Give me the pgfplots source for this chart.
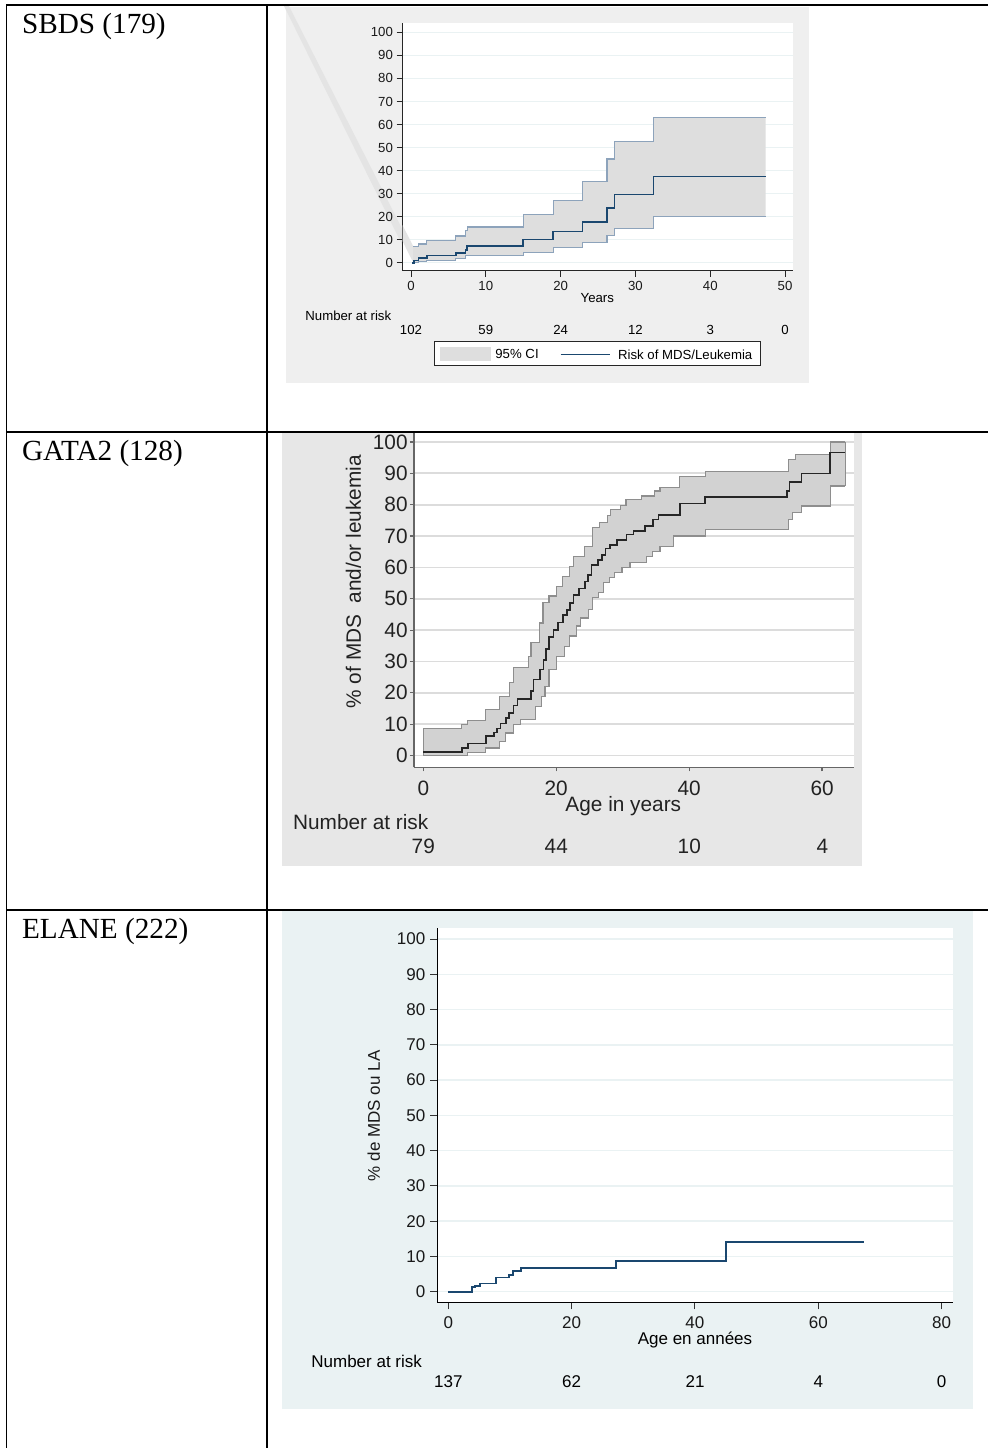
\documentclass[border=0pt]{standalone}
\usepackage{fontspec}
\setmainfont{Liberation Serif}
\newfontfamily\arial{Liberation Sans}
\usepackage{pgfplots}
\pgfplotsset{compat=1.18}
\definecolor{panelA}{HTML}{EFEFEF}
\definecolor{panelB}{HTML}{E7E7E7}
\definecolor{panelC}{HTML}{EAF2F3}
\definecolor{gridA}{HTML}{EAF2F3}
\definecolor{gridB}{HTML}{DCDCDC}
\definecolor{ciA}{HTML}{DEDEDE}
\definecolor{wedge}{HTML}{E4E4E4}
\definecolor{ciAline}{HTML}{8DA3BB}
\definecolor{navy}{HTML}{1A476F}
\definecolor{ciB}{HTML}{D2D2D2}
\definecolor{ciBline}{HTML}{8E8E8E}
\definecolor{txtB}{HTML}{222222}
\newcommand\fA{\arial\fontsize{6.6}{7.5}\selectfont}
\newcommand\fB{\arial\fontsize{10.4}{12}\selectfont}
\newcommand\fC{\arial\fontsize{8.5}{10}\selectfont}
\newcommand\fR{\fontsize{14.6}{17}\selectfont}

\pgfplotstableread{
x y
0.14 0
0.4 1.0
1.0 2.0
2.1 3.2
6.0 4.3
7.3 5.5
7.5 7.2
15.0 10.0
19.0 13.5
22.9 17.8
26.2 23.8
27.2 29.6
32.4 37.4
47.4 37.4
}\sbdsmain
\pgfplotstableread{
x y
0.3 7.1
1.0 8.1
2.1 9.7
6.0 11.6
7.3 14.0
7.6 15.5
15.0 20.8
19.0 27.1
22.9 35.3
26.2 45.0
27.2 52.7
32.4 63.0
47.4 63.0
}\sbdsup
\pgfplotstableread{
x y
0.27 0
1.0 0.6
2.1 1.0
6.0 1.7
7.3 3.2
15.0 4.6
19.0 6.5
22.9 8.7
26.2 11.7
27.2 15.0
32.4 20.1
47.4 20.1
}\sbdslo

\pgfplotstableread{
x y
0 1.1
5.8 2.4
6.7 3.8
9.4 6.2
10.6 7.4
11.1 8.6
11.6 10.2
12.4 12.0
12.9 13.6
13.6 16.0
14.2 18.0
16.2 20.5
16.6 24.3
17.6 27.4
18.1 30.5
18.5 34.0
18.9 37.9
19.6 40.1
20.3 42.4
21.0 44.9
21.6 46.4
22.1 48.6
22.6 51.2
23.4 53.3
24.3 55.5
24.8 57.6
25.3 60.8
26.3 62.4
26.9 64.0
27.4 66.0
28.1 67.1
29.1 68.7
30.6 70.5
31.6 71.7
33.4 73.2
34.6 75.3
35.4 76.7
38.6 80.4
42.4 82.5
54.7 84.3
55.1 87.3
56.9 90.0
61.2 96.7
63.5 96.7
}\gatamain
\pgfplotstableread{
x y
0 8.6
5.8 9.9
6.7 11.3
9.4 14.7
11.5 18.9
13.0 23.2
13.6 28.0
15.8 31.7
16.2 36.0
17.5 42.3
18.0 48.7
18.9 50.9
20.0 54.0
20.9 57.2
22.0 60.4
22.6 63.6
24.3 66.8
25.4 72.7
26.5 74.3
27.7 76.6
28.2 78.5
29.7 79.8
30.5 81.7
32.8 82.8
34.8 84.4
35.6 85.5
38.5 89.1
42.4 90.7
54.9 94.5
56.0 96.0
61.3 100
63.5 100
}\gataup
\pgfplotstableread{
x y
0 0
6.7 0.9
9.4 2.4
11.5 4.6
12.4 7.2
13.6 9.9
14.6 11.5
16.9 15.7
17.8 18.9
18.3 22.1
18.9 27.4
20.0 31.7
21.2 34.9
22.0 38.1
23.1 41.3
23.7 43.9
24.8 46.6
25.4 50.3
26.3 51.9
27.1 55.1
28.0 56.7
28.8 58.3
29.9 59.9
31.1 61.5
33.6 63.6
34.5 65.2
35.6 66.8
37.6 70.0
42.4 72.1
54.9 75.3
55.5 77.4
56.9 79.6
61.3 86.0
63.5 86.0
}\gatalo

\pgfplotstableread{
x y
0 0
3.84 1.3
4.3 1.6
5.1 2.3
7.7 4.0
9.8 4.7
10.5 5.8
11.8 6.7
27.2 8.7
45.0 14.1
67.4 14.1
}\elane

\begin{document}
\begin{tikzpicture}
\begin{scope}[x=0.5pt,y=-0.5pt]
 \fill[white] (0,0) rectangle (988,1448);
 \fill[panelA] (286,7) rectangle (808.5,383.3);
 \fill[wedge] (284,6) -- (289,6) -- (411,246.3) -- (411,262.7) -- cycle;
 \fill[panelB] (281.7,432) rectangle (862,865.7);
 \fill[panelC] (282.3,911) rectangle (972.7,1409.3);
 \coordinate (O1) at (402.7,270.7);
 \coordinate (O2) at (414,767.3);
 \coordinate (O3) at (437.3,1302.3);
\end{scope}

% ---------- SBDS ----------
\begin{axis}[at={(O1)}, anchor=south west, scale only axis,
 width=195.3pt, height=124pt,
 xmin=-1.11, xmax=51.1, ymin=-3.47, ymax=104.2,
 axis lines*=left, axis line style={black!85, line width=0.5pt},
 xtick={0,10,...,50}, ytick={0,10,...,100},
 tick align=outside, major tick length=3pt,
 tick style={black!85, line width=0.5pt},
 ymajorgrids, grid style={gridA, line width=0.6pt},
 axis background/.style={fill=white},
 /pgf/number format/assume math mode=true,
 tick label style={font=\fA, text=black!90, inner sep=0pt},
 xticklabel style={anchor=center, yshift=-4.65pt},
 yticklabel style={anchor=east, xshift=-1.7pt}]
\addplot[fill=wedge, draw=none] coordinates {(-16.5,110.6) (-15.8,110.6) (0.3,7.1) (0.3,0)} -- cycle;
\addplot[fill=ciA, draw=none] coordinates {
(0.3,7.1) (1.0,7.1) (1.0,8.1) (2.1,8.1) (2.1,9.7) (6.0,9.7) (6.0,11.6) (7.3,11.6) (7.3,14.0) (7.6,14.0) (7.6,15.5) (15.0,15.5) (15.0,20.8) (19.0,20.8) (19.0,27.1) (22.9,27.1) (22.9,35.3) (26.2,35.3) (26.2,45.0) (27.2,45.0) (27.2,52.7) (32.4,52.7) (32.4,63.0) (47.4,63.0)
(47.4,20.1) (32.4,20.1) (32.4,15.0) (27.2,15.0) (27.2,11.7) (26.2,11.7) (26.2,8.7) (22.9,8.7) (22.9,6.5) (19.0,6.5) (19.0,4.6) (15.0,4.6) (15.0,3.2) (7.3,3.2) (7.3,1.7) (6.0,1.7) (6.0,1.0) (2.1,1.0) (2.1,0.6) (1.0,0.6) (1.0,0) (0.27,0)} -- cycle;
\addplot[const plot, ciAline, line width=0.6pt] table {\sbdsup};
\addplot[const plot, ciAline, line width=0.6pt] table {\sbdslo};
\addplot[const plot, navy, line width=0.8pt] table {\sbdsmain};
\end{axis}

% ---------- GATA2 ----------
\begin{axis}[at={(O2)}, anchor=south west, scale only axis,
 width=220pt, height=167.65pt,
 xmin=-1.4, xmax=64.8, ymin=-3.76, ymax=103.2,
 axis lines*=left, axis line style={black!60, line width=0.6pt},
 xtick={0,20,40,60}, ytick={0,10,...,100},
 tick align=outside, major tick length=2pt,
 tick style={black!60, line width=0.6pt},
 ymajorgrids, grid style={gridB, line width=0.9pt},
 axis background/.style={fill=white},
 /pgf/number format/assume math mode=true,
 tick label style={font=\fB, text=txtB, inner sep=0pt},
 xticklabel style={anchor=center, yshift=-8.5pt},
 yticklabel style={anchor=east, xshift=-1pt},
 ylabel={\% of MDS\ \ and/or leukemia},
 ylabel style={font=\fB, text=txtB, at={(axis description cs:-0.1377,0.5535)}, anchor=center},
 clip=false]
\addplot[fill=ciB, draw=none] coordinates {
(0,8.6) (5.8,8.6) (5.8,9.9) (6.7,9.9) (6.7,11.3) (9.4,11.3) (9.4,14.7) (11.5,14.7) (11.5,18.9) (13.0,18.9) (13.0,23.2) (13.6,23.2) (13.6,28.0) (15.8,28.0) (15.8,31.7) (16.2,31.7) (16.2,36.0) (17.5,36.0) (17.5,42.3) (18.0,42.3) (18.0,48.7) (18.9,48.7) (18.9,50.9) (20.0,50.9) (20.0,54.0) (20.9,54.0) (20.9,57.2) (22.0,57.2) (22.0,60.4) (22.6,60.4) (22.6,63.6) (24.3,63.6) (24.3,66.8) (25.4,66.8) (25.4,72.7) (26.5,72.7) (26.5,74.3) (27.7,74.3) (27.7,76.6) (28.2,76.6) (28.2,78.5) (29.7,78.5) (29.7,79.8) (30.5,79.8) (30.5,81.7) (32.8,81.7) (32.8,82.8) (34.8,82.8) (34.8,84.4) (35.6,84.4) (35.6,85.5) (38.5,85.5) (38.5,89.1) (42.4,89.1) (42.4,90.7) (54.9,90.7) (54.9,94.5) (56.0,94.5) (56.0,96.0) (61.3,96.0) (61.3,100) (63.5,100)
(63.5,86.0) (61.3,86.0) (61.3,79.6) (56.9,79.6) (56.9,77.4) (55.5,77.4) (55.5,75.3) (54.9,75.3) (54.9,72.1) (42.4,72.1) (42.4,70.0) (37.6,70.0) (37.6,66.8) (35.6,66.8) (35.6,65.2) (34.5,65.2) (34.5,63.6) (33.6,63.6) (33.6,61.5) (31.1,61.5) (31.1,59.9) (29.9,59.9) (29.9,58.3) (28.8,58.3) (28.8,56.7) (28.0,56.7) (28.0,55.1) (27.1,55.1) (27.1,51.9) (26.3,51.9) (26.3,50.3) (25.4,50.3) (25.4,46.6) (24.8,46.6) (24.8,43.9) (23.7,43.9) (23.7,41.3) (23.1,41.3) (23.1,38.1) (22.0,38.1) (22.0,34.9) (21.2,34.9) (21.2,31.7) (20.0,31.7) (20.0,27.4) (18.9,27.4) (18.9,22.1) (18.3,22.1) (18.3,18.9) (17.8,18.9) (17.8,15.7) (16.9,15.7) (16.9,11.5) (14.6,11.5) (14.6,9.9) (13.6,9.9) (13.6,7.2) (12.4,7.2) (12.4,4.6) (11.5,4.6) (11.5,2.4) (9.4,2.4) (9.4,0.9) (6.7,0.9) (6.7,0) (0,0)} -- cycle;
\addplot[const plot, ciBline, line width=0.6pt] table {\gataup};
\addplot[const plot, ciBline, line width=0.6pt] table {\gatalo};
\addplot[ciBline, line width=0.6pt] coordinates {(63.5,86) (63.5,100)};
\addplot[ciBline, line width=0.6pt] coordinates {(0,0) (0,8.6)};
\addplot[const plot, black!85, line width=0.8pt] table {\gatamain};
\end{axis}

% ---------- ELANE ----------
\begin{axis}[at={(O3)}, anchor=south west, scale only axis,
 width=257.7pt, height=187.3pt,
 xmin=-1.78, xmax=81.8, ymin=-3.0, ymax=103.2,
 axis lines*=left, axis line style={black, line width=0.5pt},
 xtick={0,20,...,80}, ytick={0,10,...,100},
 tick align=outside, major tick length=3.5pt,
 tick style={black!80, line width=0.5pt},
 ymajorgrids, grid style={gridA, line width=0.7pt},
 axis background/.style={fill=white},
 /pgf/number format/assume math mode=true,
 tick label style={font=\fC, text=black!90, inner sep=0pt},
 xticklabel style={anchor=center, yshift=-6.7pt},
 yticklabel style={anchor=east, xshift=-2.3pt},
 ylabel={\% de MDS ou LA},
 ylabel style={font=\fC, text=black!90, at={(axis description cs:-0.1234,0.4979)}, anchor=center},
 clip=false]
\addplot[const plot, navy, line width=0.8pt] table {\elane};
\end{axis}

\begin{scope}[x=0.5pt,y=-0.5pt]
 % chart 1 texts
 \node[font=\fA, anchor=center] at (597.3,297.7) {Years};
 \node[font=\fA, anchor=west, inner sep=0pt] at (305,315.7) {Number at risk};
 \foreach \xx/\t in {411/102,485.8/59,560.6/24,635.4/12,710.2/3,785/0}
   \node[font=\fA, anchor=center] at (\xx,330) {\t};
 \draw[fill=white, draw=black!85, line width=0.5pt] (434.3,341.7) rectangle (760.3,365.7);
 \fill[ciA] (440,346.7) rectangle (490.7,360.7);
 \node[font=\fA, anchor=west, inner sep=0pt] at (495,354.3) {95\% CI};
 \draw[navy, line width=0.6pt] (560.7,354.3) -- (610,354.3);
 \node[font=\fA, anchor=west, inner sep=0pt] at (617.7,354.3) {Risk of MDS/Leukemia};
 % chart 2 texts
 \node[font=\fB, text=txtB, anchor=center] at (623.3,806) {Age in years};
 \node[font=\fB, text=txtB, anchor=west, inner sep=0pt] at (292.7,821.7) {Number at risk};
 \foreach \xx/\t in {423.3/79,556.3/44,689.3/10,822.3/4}
   \node[font=\fB, text=txtB, anchor=center] at (\xx,846.7) {\t};
 % chart 3 texts
 \node[font=\fC, anchor=center] at (695,1340) {Age en années};
 \node[font=\fC, anchor=west, inner sep=0pt] at (311,1361.7) {Number at risk};
 \foreach \xx/\t in {448.3/137,571.7/62,695/21,818.3/4,941.7/0}
   \node[font=\fC, anchor=center] at (\xx,1381.7) {\t};
 % table
 \begin{scope}[line width=0.9pt, black]
  \draw (6.5,5) -- (988,5);
  \draw (6.5,4.1) -- (6.5,1448);
  \draw (266.7,5) -- (266.7,1448);
  \draw (6.5,431.7) -- (988,431.7);
  \draw (6.5,910) -- (988,910);
 \end{scope}
 \node[font=\fR, anchor=base west, inner sep=0pt] at (21.7,33.3) {SBDS (179)};
 \node[font=\fR, anchor=base west, inner sep=0pt] at (21.7,460) {GATA2 (128)};
 \node[font=\fR, anchor=base west, inner sep=0pt] at (21.7,938.3) {ELANE (222)};
 \pgfresetboundingbox
 \path[use as bounding box] (0,0) rectangle (988,1448);
\end{scope}
\end{tikzpicture}
\end{document}
